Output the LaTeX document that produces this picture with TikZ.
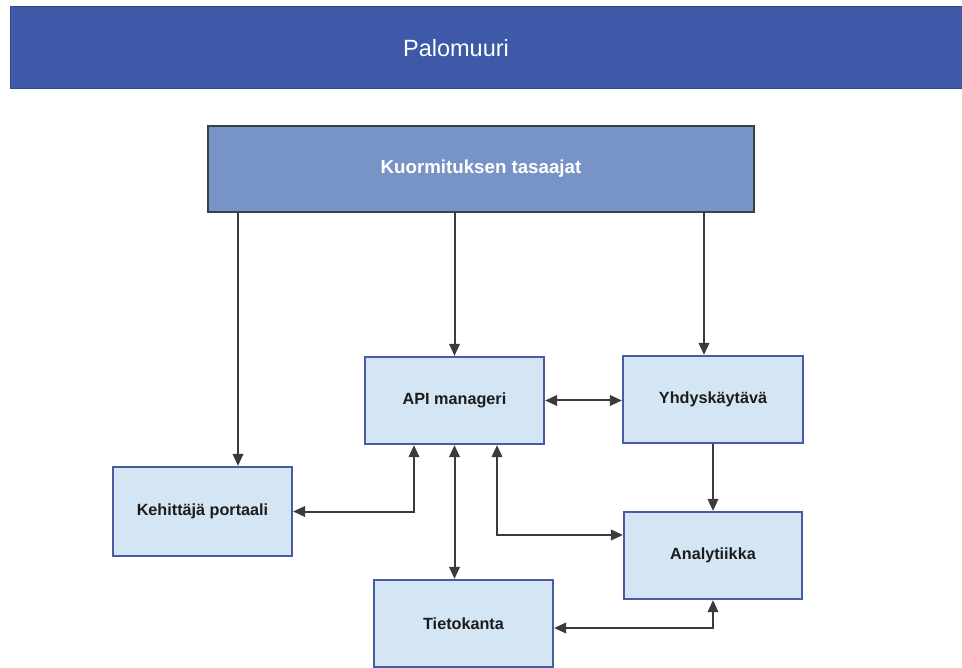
\documentclass[tikz,border=0pt]{standalone}
\usepackage{fontspec}
\setmainfont{Liberation Sans}
\usetikzlibrary{arrows.meta}

\definecolor{bannerblue}{HTML}{3D59A8}
\definecolor{bannerline}{HTML}{2F4A8E}
\definecolor{lbfill}{HTML}{7893C6}
\definecolor{lbline}{HTML}{3A3F4C}
\definecolor{boxfill}{HTML}{D4E5F3}
\definecolor{boxline}{HTML}{4A5BA6}
\definecolor{wire}{HTML}{3B3B3B}
\definecolor{ink}{HTML}{1C1C1C}

\tikzset{
  banner/.style={rectangle, fill=bannerblue, draw=bannerline, line width=1pt,
    inner sep=0pt, text=white, font=\fontsize{23.5}{28}\selectfont},
  lbbox/.style={rectangle, fill=lbfill, draw=lbline, line width=1.6pt,
    inner sep=0pt, text=white, font=\bfseries\fontsize{18.7}{22}\selectfont},
  compbox/.style={rectangle, fill=boxfill, draw=boxline, line width=2.2pt,
    inner sep=0pt, text=ink, font=\bfseries\fontsize{16.2}{19}\selectfont},
  tip/.tip={Triangle[length=12pt,width=10.5pt]},
  oneway/.style={draw=wire, line width=2pt, -{tip}},
  twoway/.style={draw=wire, line width=2pt, {tip}-{tip}},
}

\begin{document}
\begin{tikzpicture}[x=1pt, y=-1pt]
  \useasboundingbox (0,0) rectangle (962,668);

  % top banner and load balancer
  \node[banner, minimum width=955pt, minimum height=82pt] (fw) at (487.5,48)
    {\hspace*{-63pt}Palomuuri};
  \node[lbbox, minimum width=546pt, minimum height=86pt] (lb) at (481,169)
    {Kuormituksen tasaajat};

  % components
  \node[compbox, minimum width=179pt, minimum height=87pt] (api) at (454.5,400.5) {API manageri};
  \node[compbox, minimum width=180pt, minimum height=87pt] (gw)  at (713,399.5)   {Yhdyskäytävä};
  \node[compbox, minimum width=179pt, minimum height=89pt] (dev) at (202.5,511.5) {Kehittäjä portaali};
  \node[compbox, minimum width=178pt, minimum height=87pt] (an)  at (713,555.5)   {Analytiikka};
  \node[compbox, minimum width=179pt, minimum height=87pt] (db)  at (463.5,623.5) {Tietokanta};

  % attachment points on the component boxes
  \coordinate (devin) at ([xshift=35.5pt]dev.north);
  \coordinate (apiin) at (api.north);
  \coordinate (gwin)  at ([xshift=-9pt]gw.north);
  \coordinate (apiA)  at ([xshift=-40.5pt]api.south);
  \coordinate (apiB)  at (api.south);
  \coordinate (apiC)  at ([xshift=42.5pt]api.south);
  \coordinate (anin)  at ([yshift=20.5pt]an.west);
  \coordinate (dbout) at ([yshift=-4.5pt]db.east);

  % load balancer fan-out
  \draw[oneway] (lb.south -| devin) -- (devin);
  \draw[oneway] (lb.south -| apiin) -- (apiin);
  \draw[oneway] (lb.south -| gwin)  -- (gwin);

  % links between components
  \draw[twoway] (api.east) -- (api.east -| gw.west);
  \draw[oneway] (gw.south) -- (an.north);
  \draw[twoway] (dev.east) -| (apiA);
  \draw[twoway] (apiB) -- (apiB |- db.north);
  \draw[twoway] (apiC) |- (anin);
  \draw[twoway] (dbout) -| (an.south);
\end{tikzpicture}
\end{document}
